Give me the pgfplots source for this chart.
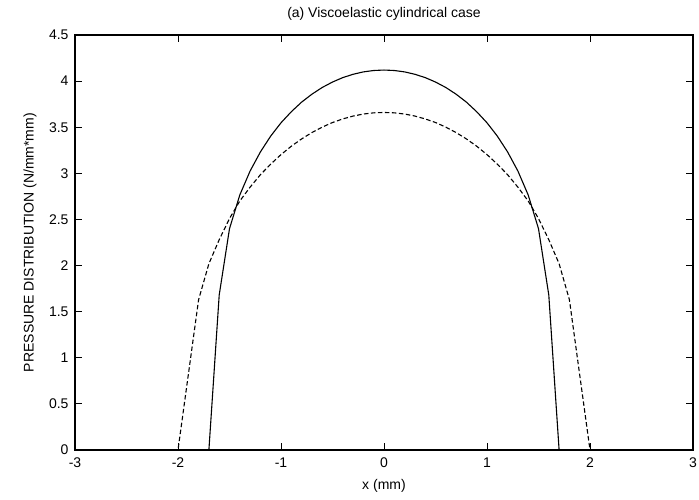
\documentclass[border=0pt]{standalone}
\usepackage{fontspec}
\setmainfont{Liberation Sans}
\usepackage{pgfplots}
\pgfplotsset{compat=1.18}
\begin{document}
\begin{tikzpicture}
\useasboundingbox[fill=white] (-75pt,-50pt) rectangle (624pt,450pt);
\begin{axis}[
  scale only axis, width=618pt, height=415pt,
  at={(0pt,0pt)}, anchor=south west,
  xmin=-3, xmax=3, ymin=0, ymax=4.5,
  xtick={-3,-2,-1,0,1,2,3},
  xticklabels={-3,-2,-1,0,1,2,3},
  ytick={0,0.5,1,1.5,2,2.5,3,3.5,4,4.5},
  yticklabels={0,0.5,1,1.5,2,2.5,3,3.5,4,4.5},
  tick align=inside, xtick pos=both, ytick pos=both,
  major tick length=7pt,
  tick style={black, line width=1pt},
  axis line style={black, line width=1.2pt},
  font=\fontsize{14}{16}\selectfont,
  ticklabel style={font=\fontsize{14}{16}\selectfont},
  xticklabel style={yshift=-4pt},
  yticklabel style={xshift=-3pt},
  title={(a) Viscoelastic cylindrical case},
  title style={at={(axis description cs:0.5,1.0361)}, anchor=center, font=\fontsize{14}{16}\selectfont},
  xlabel={x (mm)},
  xlabel style={at={(axis description cs:0.5,-0.0867)}, anchor=center, font=\fontsize{14}{16}\selectfont},
  ylabel={PRESSURE DISTRIBUTION (N/mm*mm)},
  ylabel style={at={(axis description cs:-0.0728,0.5)}, anchor=center, font=\fontsize{14}{16}\selectfont},
  clip=false,
]
\addplot[black, line width=1.1pt] coordinates {
(-3,0) (-1.7,0) (-1.6,1.68) (-1.5,2.40) (-1.4,2.765) (-1.3,3.025) (-1.2,3.232)
(-1.1,3.404) (-1.0,3.548) (-0.9,3.668) (-0.8,3.772) (-0.7,3.858) (-0.6,3.931)
(-0.5,3.990) (-0.4,4.038) (-0.3,4.074) (-0.2,4.100) (-0.1,4.115) (0,4.12)
(0.1,4.115) (0.2,4.100) (0.3,4.074) (0.4,4.038) (0.5,3.990) (0.6,3.931)
(0.7,3.858) (0.8,3.772) (0.9,3.668) (1.0,3.548) (1.1,3.404) (1.2,3.232)
(1.3,3.025) (1.4,2.765) (1.5,2.40) (1.6,1.68) (1.7,0) (3,0)
};
\addplot[black, line width=1.1pt, dash pattern=on 4.5pt off 2.5pt] coordinates {
(-3,0) (-2.0,0) (-1.8,1.63) (-1.7,2.02) (-1.6,2.28) (-1.5,2.51) (-1.4,2.70)
(-1.3,2.85) (-1.2,2.985) (-1.1,3.100) (-1.0,3.203) (-0.9,3.294) (-0.8,3.373)
(-0.7,3.442) (-0.6,3.501) (-0.5,3.551) (-0.4,3.590) (-0.3,3.621) (-0.2,3.643)
(-0.1,3.656) (0,3.66)
(0.1,3.656) (0.2,3.643) (0.3,3.621) (0.4,3.590) (0.5,3.551) (0.6,3.501)
(0.7,3.442) (0.8,3.373) (0.9,3.294) (1.0,3.203) (1.1,3.100) (1.2,2.985)
(1.3,2.85) (1.4,2.70) (1.5,2.51) (1.6,2.28) (1.7,2.02) (1.8,1.63) (2.0,0) (3,0)
};
\end{axis}
\end{tikzpicture}
\end{document}
